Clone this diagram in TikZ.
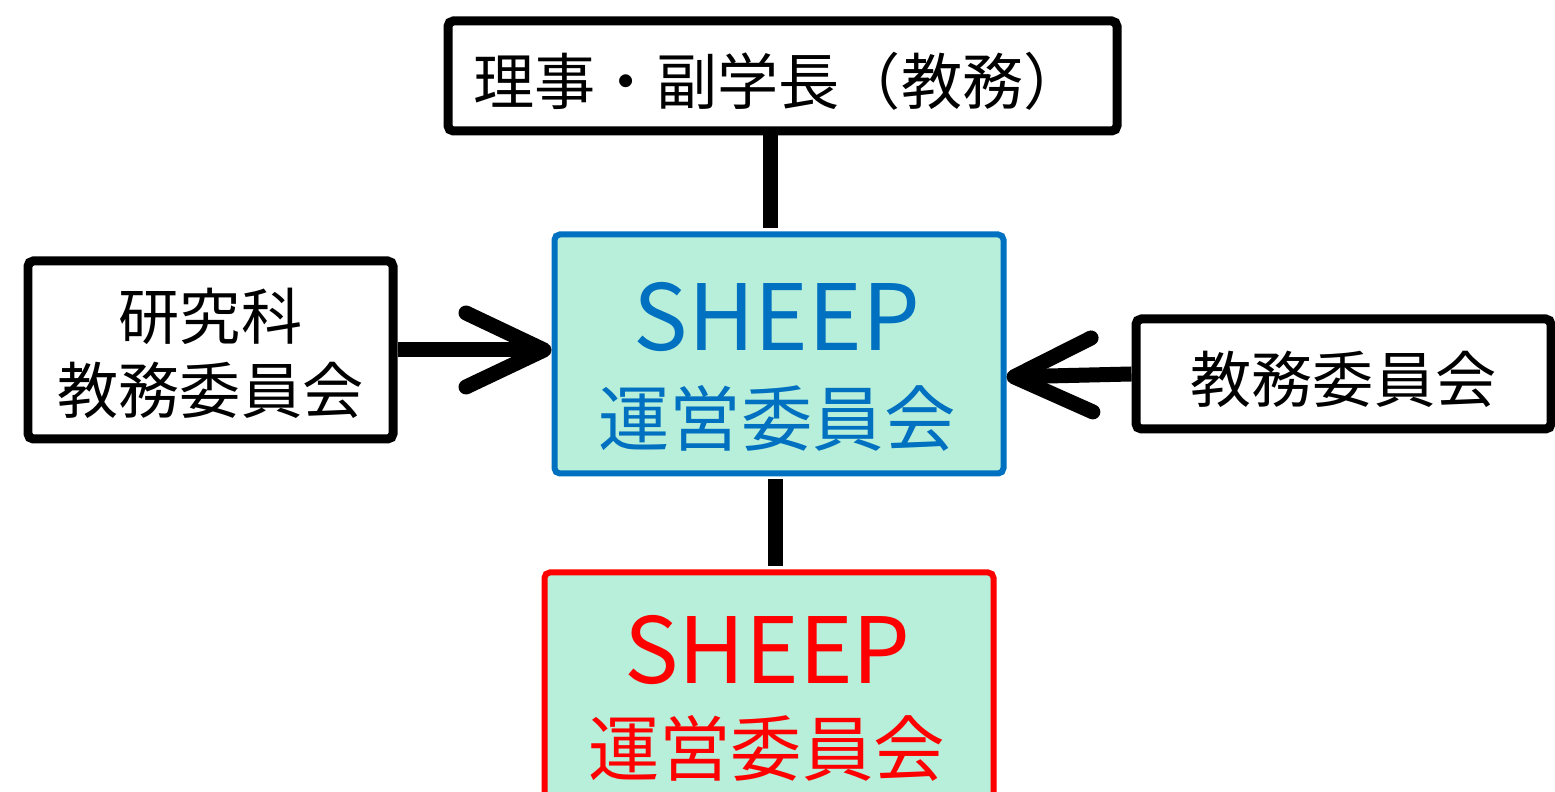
\documentclass[tikz,border=0pt]{standalone}
\usepackage{fontspec}
\setmainfont{Noto Sans CJK JP}
\usepackage{xcolor}
\usepackage{tikz}
\usetikzlibrary{arrows.meta,positioning}
\definecolor{sheepblue}{RGB}{0,112,192}
\definecolor{sheepred}{RGB}{255,0,0}
\definecolor{sheepgreen}{RGB}{184,239,218}
\newcommand{\dropjp}[2]{\raisebox{-#1}[\height][\depth]{#2}}
\tikzset{
  bbox/.style={draw=black,line width=0.09cm,rounded corners=1.5pt,inner sep=0pt,
    font=\fontsize{17.4pt}{21pt}\selectfont,align=center},
  sbox/.style={fill=sheepgreen,line width=0.06cm,rounded corners=1.5pt,inner sep=0pt,
    minimum width=4.49cm,minimum height=2.39cm},
  latin/.style={inner sep=0pt,font=\fontsize{26pt}{26pt}\selectfont},
  jp/.style={inner sep=0pt,font=\fontsize{20.3pt}{20.3pt}\selectfont},
  conn/.style={line width=0.15cm},
  >={Straight Barb[length=0.78cm,width=0.74cm,round]}
}
\begin{document}
\begin{tikzpicture}
\clip (0,0) rectangle (15.55,-7.92);
\node[bbox,minimum width=6.69cm,minimum height=1.10cm,text width=6.19cm,align=left] (rijii) at (7.825,-0.76) {\dropjp{0.05cm}{理事・副学長（教務）}};
\node[bbox,minimum width=3.65cm,minimum height=1.78cm] (kenkyuka) at (2.105,-3.50) {\dropjp{0.03cm}{研究科}\\\dropjp{0.03cm}{教務委員会}};
\node[bbox,minimum width=4.15cm,minimum height=1.10cm] (kyomu) at (13.435,-3.74) {\dropjp{0.05cm}{教務委員会}};
\node[sbox,draw=sheepblue] (sheep) at (7.79,-3.54) {};
\node[latin,text=sheepblue] (sheepA) at (7.77,-3.175) {SHEEP};
\node[jp,text=sheepblue] (sheepB) at (7.77,-4.18) {運営委員会};
\node[sbox,draw=sheepred,anchor=north] (sheepnew) at (7.69,-5.695) {};
\node[latin,text=sheepred] (sheepnewA) at (7.675,-6.50) {SHEEP};
\node[jp,text=sheepred] (sheepnewB) at (7.665,-7.48) {運営委員会};
\draw[conn,shorten >=0.03cm] ([xshift=-0.125cm]rijii.south) -- ([xshift=-0.125cm]rijii.south |- sheep.north);
\draw[conn,shorten <=0.03cm,shorten >=0.03cm] ([xshift=-0.04cm]sheep.south) -- ([xshift=-0.04cm]sheep.south |- sheepnew.north);
\draw[conn,->] (kenkyuka.east) -- (kenkyuka.east -| sheep.west);
\draw[conn,->] (kyomu.west) -- ([yshift=-0.03cm]kyomu.west -| sheep.east);
\end{tikzpicture}
\end{document}
